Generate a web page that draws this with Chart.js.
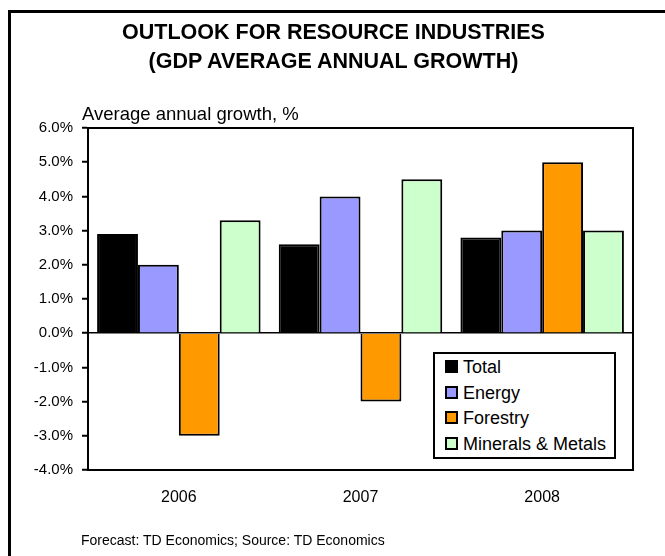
<!DOCTYPE html>
<html>
<head>
<meta charset="utf-8">
<title>Outlook for Resource Industries</title>
<script src="https://cdn.jsdelivr.net/npm/chart.js@4.4.0/dist/chart.umd.min.js"></script>
<style>
  body { margin: 0; background: #fff; font-family: Arial, "Liberation Sans", sans-serif; color: #000; }
  #wrap { position: relative; width: 665px; height: 556px; overflow: hidden; }
  #frame { position: absolute; left: 8px; top: 10px; width: 700px; height: 600px;
           border-left: 3px solid #000; border-top: 3px solid #000; }
  #chart { position: absolute; left: 0; top: 0; }
  .title { position: absolute; left: 0; width: 667px; top: 18px; text-align: center;
           font-weight: bold; font-size: 21.5px; line-height: 29px; }
  .caption { position: absolute; left: 82px; top: 103px; font-size: 18.5px; }
  .footer { position: absolute; left: 81px; top: 532px; font-size: 14px; }
  #legend { position: absolute; left: 433px; top: 352px; width: 179px; height: 103px;
            border: 2px solid #000; background: #fff; }
  #legend .item { position: absolute; left: 10px; font-size: 18px; line-height: 20px; white-space: nowrap; }
  #legend .swatch { display: inline-block; width: 9px; height: 9px; border: 2px solid #000;
                    margin-right: 5px; vertical-align: 0px; }
</style>
</head>
<body>
<div id="wrap">
  <div id="frame"></div>
  <canvas id="chart" width="665" height="556"></canvas>
  <div class="title">OUTLOOK FOR RESOURCE INDUSTRIES<br>(GDP AVERAGE ANNUAL GROWTH)</div>
  <div class="caption">Average annual growth, %</div>
  <div class="footer">Forecast: TD Economics; Source: TD Economics</div>
  <div id="legend"></div>
</div>
<script>
/* ===================== DATA ===================== */
const years = ['2006', '2007', '2008'];
const total = [2.9, 2.6, 2.8];
const energy = [2.0, 4.0, 3.0];
const forestry = [-3.0, -2.0, 5.0];
const minerals = [3.3, 4.5, 3.0];
const seriesNames = ['Total', 'Energy', 'Forestry', 'Minerals & Metals'];
const seriesColors = ['#000000', '#9999FF', '#FF9900', '#CCFFCC'];
const yTicks = [-4, -3, -2, -1, 0, 1, 2, 3, 4, 5, 6];

/* ===================== PLOT FRAME (top + right edges) ===================== */
const plotFrame = {
  id: 'plotFrame',
  afterDatasetsDraw(chart) {
    const { ctx, chartArea: a } = chart;
    ctx.save();
    ctx.strokeStyle = '#000';
    ctx.lineWidth = 2;
    ctx.beginPath();
    ctx.moveTo(a.left, a.top);
    ctx.lineTo(a.right, a.top);
    ctx.lineTo(a.right, a.bottom);
    ctx.stroke();
    ctx.restore();
  }
};

/* ===================== CHART ===================== */
Chart.defaults.font.family = 'Arial, "Liberation Sans", sans-serif';
Chart.defaults.color = '#000';

const seriesValues = [total, energy, forestry, minerals];

const chart = new Chart(document.getElementById('chart'), {
  type: 'bar',
  data: {
    labels: years,
    datasets: seriesNames.map((name, i) => ({
      label: name,
      data: seriesValues[i],
      backgroundColor: seriesColors[i],
      borderColor: '#000',
      borderWidth: 2
    }))
  },
  options: {
    responsive: false,
    animation: false,
    layout: { padding: { top: 128, right: 32, left: 0, bottom: 0 } },
    plugins: { legend: { display: false }, tooltip: { enabled: false } },
    datasets: { bar: { categoryPercentage: 0.9, barPercentage: 1 } },
    scales: {
      x: {
        grid: { display: true, drawOnChartArea: false, drawTicks: false },
        border: { color: '#000', width: 2 },
        ticks: { color: '#000', font: { size: 16 }, padding: 18 },
        afterFit: s => { s.height = 86; }
      },
      y: {
        min: -4,
        max: 6,
        afterBuildTicks: s => { s.ticks = yTicks.map(v => ({ value: v })); },
        grid: {
          color: c => (c.tick && c.tick.value === 0 ? '#000' : 'rgba(0,0,0,0)'),
          lineWidth: 1.5,
          tickColor: '#000',
          tickLength: 6,
          tickWidth: 2
        },
        border: { color: '#000', width: 2 },
        ticks: { color: '#000', font: { size: 15 }, padding: 9, callback: v => v.toFixed(1) + '%' },
        afterFit: s => { s.width = 88; }
      }
    }
  },
  plugins: [plotFrame]
});

/* ===================== LEGEND ===================== */
const legend = document.getElementById('legend');
chart.data.datasets.forEach((ds, i) => {
  const item = document.createElement('div');
  item.className = 'item';
  item.style.top = (3 + i * 25.5) + 'px';
  const sw = document.createElement('span');
  sw.className = 'swatch';
  sw.style.background = ds.backgroundColor;
  item.appendChild(sw);
  item.appendChild(document.createTextNode(ds.label));
  legend.appendChild(item);
});
</script>
</body>
</html>
